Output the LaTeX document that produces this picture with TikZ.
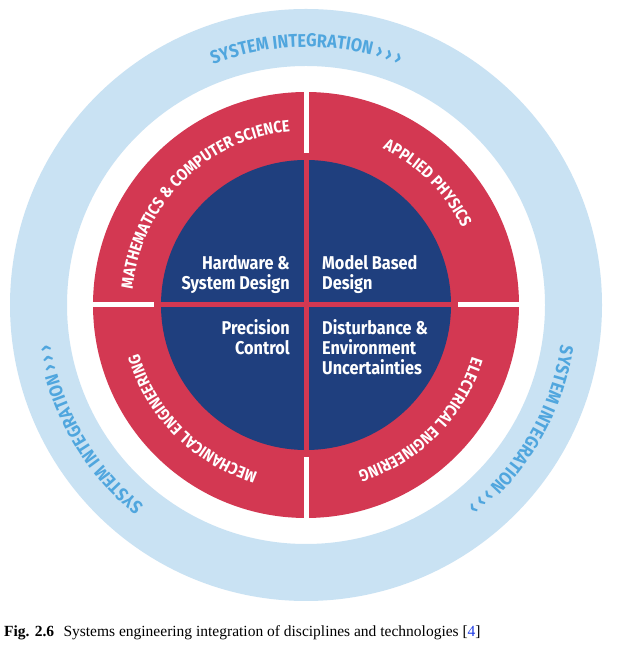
\documentclass[tikz,border=0pt]{standalone}
\usepackage{fontspec}
\setmainfont{Liberation Serif}
\newfontfamily\cf[FakeStretch=0.88]{Fira Sans}
\usetikzlibrary{decorations.text,calc}
\definecolor{ringblue}{RGB}{201,226,243}
\definecolor{ringtext}{RGB}{80,166,222}
\definecolor{discred}{RGB}{211,56,82}
\definecolor{coreblue}{RGB}{31,63,126}
\definecolor{linkblue}{RGB}{30,60,230}
\tikzset{
  outertext/.style={decorate, decoration={text along path, text align=center,
      text={|\cf\bfseries\fontsize{18.5pt}{21pt}\selectfont\color{ringtext}|#1}}},
  redtext/.style={decorate, decoration={text along path, text align=center,
      text={|\cf\bfseries\fontsize{16.5pt}{19pt}\selectfont\color{white}|#1}}},
  coretext/.style={inner sep=0pt, text=white, font=\cf\bfseries\fontsize{18.5pt}{22pt}\selectfont},
  captiontext/.style={inner sep=0pt, anchor=base west, font=\fontsize{15.5pt}{18pt}\selectfont},
  spoke/.style={white, line width=5pt},
  crossbar/.style={discred, line width=5pt}
}
\begin{document}
\begin{tikzpicture}[x=1pt, y=1pt]
\useasboundingbox (0,0) rectangle (621,645);
\fill[white] (0,0) rectangle (621,645);
\coordinate (C) at (306,340);
% outer ring
\fill[ringblue, even odd rule] (C) circle[radius=296pt] (C) circle[radius=239pt];
% red disc and blue core
\fill[discred] (C) circle[radius=213pt];
\fill[coreblue] (C) circle[radius=145pt];
\draw[crossbar] ($(C)+(0,146)$) -- ($(C)+(0,-146)$);
\draw[crossbar] ($(C)+(-146,0)$) -- ($(C)+(146,0)$);
% white spokes
\draw[spoke] ($(C)+(0,214)$) -- ($(C)+(0,152)$);
\draw[spoke] ($(C)+(0,-214)$) -- ($(C)+(0,-152)$);
\draw[spoke] ($(C)+(-214,0)$) -- ($(C)+(-152,0)$);
\draw[spoke] ($(C)+(214,0)$) -- ($(C)+(152,0)$);
% outer curved texts
\path[outertext={SYSTEM INTEGRATION › › ›}] (C) ++(150:258pt) arc[start angle=150, end angle=30, radius=258pt];
\path[outertext={SYSTEM INTEGRATION › › ›}] (C) ++(270:258pt) arc[start angle=270, end angle=150, radius=258pt];
\path[outertext={SYSTEM INTEGRATION › › ›}] (C) ++(390:258pt) arc[start angle=390, end angle=270, radius=258pt];
% red ring texts
\path[redtext={MATHEMATICS {\&} COMPUTER SCIENCE}] (C) ++(195:174pt) arc[start angle=195, end angle=75, radius=174pt];
\path[redtext={APPLIED PHYSICS}] (C) ++(105:174pt) arc[start angle=105, end angle=-15, radius=174pt];
\path[redtext={MECHANICAL ENGINEERING}] (C) ++(285:174pt) arc[start angle=285, end angle=165, radius=174pt];
\path[redtext={ELECTRICAL ENGINEERING}] (C) ++(375:174pt) arc[start angle=375, end angle=255, radius=174pt];
% core texts
\node[coretext, anchor=base east] (hw1) at (290,375) {Hardware \&};
\node[coretext, anchor=base east] (hw2) at (290,355) {System Design};
\node[coretext, anchor=base west] (mb1) at (322,375) {Model Based};
\node[coretext, anchor=base west] (mb2) at (322,355) {Design};
\node[coretext, anchor=base east] (pc1) at (290,310) {Precision};
\node[coretext, anchor=base east] (pc2) at (290,290) {Control};
\node[coretext, anchor=base west] (du1) at (322,310) {Disturbance \&};
\node[coretext, anchor=base west] (du2) at (322,290) {Environment};
\node[coretext, anchor=base west] (du3) at (322,270) {Uncertainties};
% caption
\node[captiontext] (figlabel) at (4,8.3) {\textbf{Fig. 2.6}};
\node[captiontext] (figcaption) at (63.3,8.3) {Systems engineering integration of disciplines and technologies [\textcolor{linkblue}{4}]};
\end{tikzpicture}
\end{document}
